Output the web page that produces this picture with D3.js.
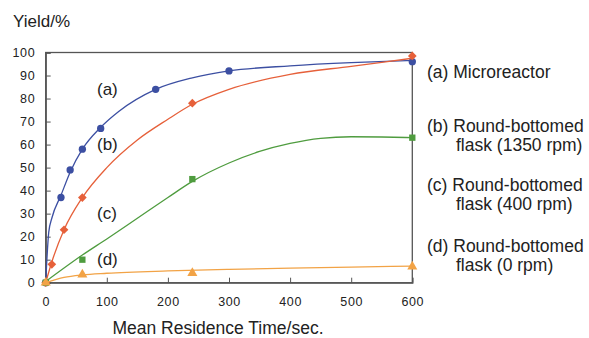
<!DOCTYPE html>
<html>
<head>
<meta charset="utf-8">
<script src="https://cdn.jsdelivr.net/npm/d3@7"></script>
<style>
  body { margin: 0; background: #fff; }
  text { font-family: "Liberation Sans", Arial, sans-serif; fill: #222; }
</style>
</head>
<body>
<div class="chart"></div>
<script>
// measured points (mean residence time, yield)
var ptsA = [[0, 0], [25, 37], [40, 49], [60, 58], [90, 67], [180, 84], [300, 92], [600, 96]];
var ptsB = [[0, 0], [10, 8], [30, 23], [60, 37], [240, 78], [600, 98.5]];
var ptsC = [[0, 0], [60, 10], [240, 45], [600, 63]];
var ptsD = [[0, 0], [60, 3.5], [240, 4.2], [600, 7]];

// fitted curves
var fitA = [[0, 0], [5, 22], [10, 28], [25, 38], [40, 48], [60, 58], [90, 67.5], [120, 74.5], [180, 84], [240, 89], [300, 92], [400, 94.2], [500, 95.6], [600, 96.5]];
var fitB = [[0, 0], [10, 9], [30, 23], [60, 37], [100, 50], [150, 62], [200, 71], [240, 77.5], [300, 84], [400, 90.5], [500, 94], [600, 97.5]];
var fitC = [[0, 0.5], [60, 12], [100, 19], [150, 28], [200, 37], [240, 44], [300, 52], [350, 57], [400, 60.5], [450, 62.7], [500, 63.4], [550, 63.3], [600, 63]];
var fitD = [[0, 0], [30, 2.3], [60, 3.4], [100, 4.1], [200, 5.1], [300, 5.8], [400, 6.3], [500, 6.8], [600, 7.2]];

var xTicks = [0, 100, 200, 300, 400, 500, 600];
var yTicks = [0, 10, 20, 30, 40, 50, 60, 70, 80, 90, 100];

var legendLines = [
  ["(a) Microreactor"],
  ["(b) Round-bottomed", "flask (1350 rpm)"],
  ["(c) Round-bottomed", "flask (400 rpm)"],
  ["(d) Round-bottomed", "flask (0 rpm)"]
];
var curveTags = ["(a)", "(b)", "(c)", "(d)"];

var w = 589, h = 338;
var x = d3.scaleLinear().domain([0, 600]).range([45.7, 412.3]);
var y = d3.scaleLinear().domain([0, 100]).range([282.7, 52.5]);

var svg = d3.select(".chart").append("svg")
  .attr("width", w).attr("height", h);

var line = d3.line()
  .x(function(d) { return x(d[0]); })
  .y(function(d) { return y(d[1]); })
  .curve(d3.curveMonotoneX);

var series = [
  { fit: fitA, pts: ptsA, color: "#3c4fa2", mark: d3.symbolCircle, size: 42, rot: 0 },
  { fit: fitB, pts: ptsB, color: "#e6603a", mark: d3.symbolSquare, size: 38, rot: 45 },
  { fit: fitC, pts: ptsC, color: "#4f9c3f", mark: d3.symbolSquare, size: 40, rot: 0 },
  { fit: fitD, pts: ptsD, color: "#f2a346", mark: d3.symbolTriangle, size: 44, rot: 0 }
];

// frame
svg.append("rect")
  .attr("x", x(0)).attr("y", y(100))
  .attr("width", x(600) - x(0)).attr("height", y(0) - y(100))
  .attr("fill", "none").attr("stroke", "#555").attr("stroke-width", 1.3);

// axes with inward ticks
var xAxis = svg.append("g")
  .attr("transform", "translate(0," + y(0) + ")")
  .call(d3.axisBottom(x).tickValues(xTicks).tickSize(-5).tickPadding(14));
var yAxis = svg.append("g")
  .attr("transform", "translate(" + x(0) + ",0)")
  .call(d3.axisLeft(y).tickValues(yTicks).tickSize(-5).tickPadding(10.5));
[xAxis, yAxis].forEach(function(a) {
  a.select(".domain").attr("stroke", "#555").attr("stroke-width", 1.3);
  a.selectAll(".tick line").attr("stroke", "#555");
  a.selectAll("text").attr("font-size", 12.5).attr("fill", "#222")
    .style("letter-spacing", "0.6px")
    .style("font-family", "'Liberation Sans', Arial, sans-serif");
});

// curves and markers
series.forEach(function(s) {
  svg.append("path")
    .datum(s.fit)
    .attr("d", line)
    .attr("fill", "none")
    .attr("stroke", s.color)
    .attr("stroke-width", 1.3);
  svg.selectAll(null)
    .data(s.pts)
    .enter()
    .append("path")
    .attr("d", d3.symbol().type(s.mark).size(s.size))
    .attr("transform", function(d) {
      return "translate(" + x(d[0]) + "," + y(d[1]) + ") rotate(" + s.rot + ")";
    })
    .attr("fill", s.color);
});

// curve tags inside plot
var tagY = [95, 150, 219, 265];
curveTags.forEach(function(t, i) {
  svg.append("text")
    .attr("x", 97).attr("y", tagY[i])
    .attr("font-size", 17)
    .text(t);
});

// legend on the right
var legY = [78, 132, 191, 252];
legendLines.forEach(function(l, i) {
  l.forEach(function(txt, j) {
    svg.append("text")
      .attr("x", j === 0 ? 427 : 456)
      .attr("y", legY[i] + j * 19)
      .attr("font-size", 17.5)
      .text(txt);
  });
});

// axis titles
svg.append("text")
  .attr("x", 13).attr("y", 27)
  .attr("font-size", 17)
  .text("Yield/%");
svg.append("text")
  .attr("x", 218).attr("y", 334)
  .attr("text-anchor", "middle")
  .attr("font-size", 17.5)
  .text("Mean Residence Time/sec.");
</script>
</body>
</html>
